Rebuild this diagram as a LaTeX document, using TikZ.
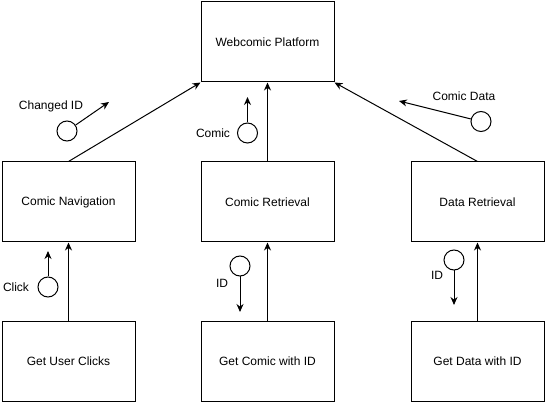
\documentclass[tikz,border=0pt]{standalone}
\usepackage{fontspec}
\setmainfont{Liberation Sans}
\usetikzlibrary{arrows.meta}
\begin{document}
\begin{tikzpicture}[x=1pt,y=-1pt,
  box/.style={draw=black,line width=1pt,minimum width=133pt,minimum height=80pt,inner sep=0pt,font=\fontsize{12}{14}\selectfont},
  msg/.style={draw=black,line width=1pt,circle,minimum size=20pt,inner sep=0pt},
  lbl/.style={font=\fontsize{12}{14}\selectfont,inner sep=0pt},
  conn/.style={line width=1pt,-{Stealth[length=8pt,width=7pt]}},
  flow/.style={line width=1pt,-{Stealth[length=8pt,width=7pt]}}]
\useasboundingbox (0,0) rectangle (546,403);
\node[box] (wp) at (267.5,42) {Webcomic Platform};
\node[box] (cn) at (68.5,202) {Comic Navigation};
\node[box] (cr) at (267.5,202) {Comic Retrieval};
\node[box] (dr) at (477.5,202) {Data Retrieval};
\node[box] (gu) at (68.5,361.5) {Get User Clicks};
\node[box] (gc) at (267.5,361.5) {Get Comic with ID};
\node[box] (gd) at (477.5,361.5) {Get Data with ID};

\draw[conn] (cn.north) -- (wp.south west);
\draw[conn] (cr.north) -- (cr.north |- wp.south);
\draw[conn] (dr.north) -- (wp.south east);
\draw[conn] (gu.north) -- (gu.north |- cn.south);
\draw[conn] (gc.north) -- (gc.north |- cr.south);
\draw[conn] (gd.north) -- (gd.north |- dr.south);

% messages
\node[msg] (m1) at (67,131) {};
\coordinate (t1) at (109,102);
\draw[flow] (m1) -- (t1);
\node[lbl] (l1) at (51,106) {Changed ID};

\node[msg] (m2) at (247.5,133) {};
\coordinate (t2) at (247.5,97);
\draw[flow] (m2) -- (t2);
\node[lbl] (l2) at (213,133) {Comic};

\node[msg] (m3) at (481,121.5) {};
\coordinate (t3) at (399,101);
\draw[flow] (m3) -- (t3);
\node[lbl] (l3) at (464,96) {Comic Data};

\node[msg] (m4) at (48,287) {};
\coordinate (t4) at (48,251);
\draw[flow] (m4) -- (t4);
\node[lbl] (l4) at (16,287) {Click};

\node[msg] (m5) at (240,266) {};
\coordinate (t5) at (240,312);
\draw[flow] (m5) -- (t5);
\node[lbl] (l5) at (222,283) {ID};

\node[msg] (m6) at (454,260) {};
\coordinate (t6) at (454,305);
\draw[flow] (m6) -- (t6);
\node[lbl] (l6) at (437,275) {ID};
\end{tikzpicture}
\end{document}
